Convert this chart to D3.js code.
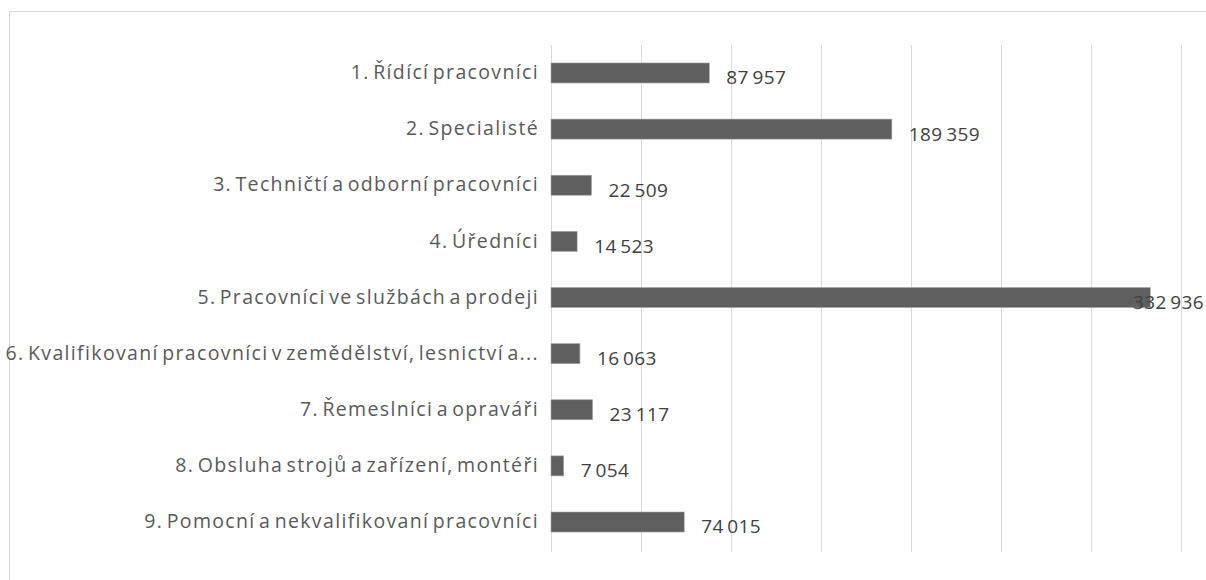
<!DOCTYPE html>
<html>
<head>
<meta charset="utf-8">
<script src="https://cdn.jsdelivr.net/npm/d3@7"></script>
<style>
  body { margin: 0; background: #fff; }
  svg { display: block; }
</style>
</head>
<body>
<script>
// categories and counts (from the picture)
const categories = [
  "1. Řídící pracovníci",
  "2. Specialisté",
  "3. Techničtí a odborní pracovníci",
  "4. Úředníci",
  "5. Pracovníci ve službách a prodeji",
  "6. Kvalifikovaní pracovníci v zemědělství, lesnictví a...",
  "7. Řemeslníci a opraváři",
  "8. Obsluha strojů a zařízení, montéři",
  "9. Pomocní a nekvalifikovaní pracovníci"
]
const values = [87957, 189359, 22509, 14523, 332936, 16063, 23117, 7054, 74015]
const gridTicks = [0, 50000, 100000, 150000, 200000, 250000, 300000, 350000]

const svgWidth = 1206
const svgHeight = 580
const margin = {top: 45, right: 25, bottom: 30, left: 551}

const fmt = function(v) { return d3.format(",")(v).replace(/,/g, "\u2009") }

const svg = d3.select("body").append("svg")
  .attr("width", svgWidth)
  .attr("height", svgHeight)

// chart frame (runs past the right and bottom edge)
svg.append("rect")
  .attr("x", 9.5).attr("y", 11.5)
  .attr("width", 1220).attr("height", 600)
  .attr("fill", "none")
  .attr("stroke", "#d9d9d9")

const xScale = d3.scaleLinear()
  .domain([0, 350000])
  .range([0, 630])

const yScale = d3.scaleBand()
  .domain(categories)
  .range([0, 505])
  .paddingInner(0.643)
  .paddingOuter(0.32)

const g = svg.append("g")
  .attr("transform", "translate(" + margin.left + "," + margin.top + ")")

// vertical gridlines
g.append("g")
  .selectAll("line")
  .data(gridTicks)
  .enter().append("line")
  .attr("x1", function(d) { return Math.round(xScale(d)) + 0.5 })
  .attr("x2", function(d) { return Math.round(xScale(d)) + 0.5 })
  .attr("y1", 0)
  .attr("y2", 507)
  .attr("stroke", "#d9d9d9")
  .attr("stroke-width", 1)

// bars
g.append("g")
  .selectAll("rect")
  .data(values)
  .enter().append("rect")
  .attr("x", 0)
  .attr("y", function(d, i) { return yScale(categories[i]) })
  .attr("width", function(d) { return xScale(d) })
  .attr("height", yScale.bandwidth())
  .attr("fill", "#5f5f5f")
  .attr("stroke", "#a6a6a6")
  .attr("stroke-width", 0.6)

// category labels
const yAxis = d3.axisLeft(yScale).tickSize(0).tickPadding(12)
const ya = g.append("g").call(yAxis)
ya.select(".domain").remove()
ya.selectAll("text")
  .attr("fill", "#595959")
  .style("font-family", "'Open Sans', Lato, sans-serif")
  .style("font-size", "19.5px")
  .style("letter-spacing", "1.35px")
  .style("word-spacing", "-3px")

// value labels
const plotRight = 1209
g.append("g")
  .selectAll("text")
  .data(values)
  .enter().append("text")
  .attr("x", function(d) {
    var x = xScale(d) + 17
    var w = 76
    return Math.min(x, plotRight - margin.left - w)
  })
  .attr("y", function(d, i) { return yScale(categories[i]) + yScale.bandwidth() / 2 })
  .attr("dy", "0.6em")
  .attr("fill", "#404040")
  .style("font-family", "'Open Sans', Lato, sans-serif")
  .style("font-size", "19px")
  .style("letter-spacing", "0.4px")
  .text(function(d) { return fmt(d) })
</script>
</body>
</html>
